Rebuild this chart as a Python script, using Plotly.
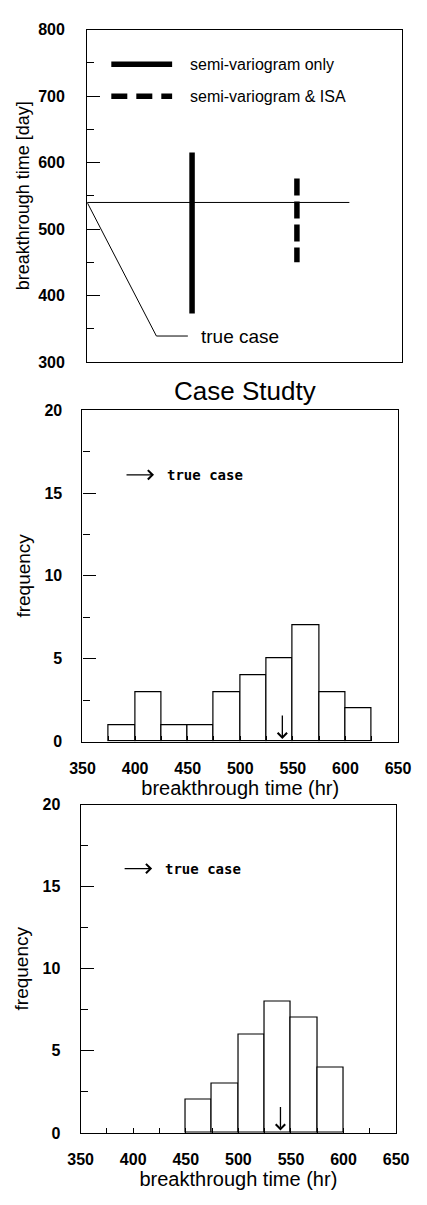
import plotly.graph_objects as go

W, H = 427, 1205

# ---------------- data ----------------
true_value = 540                      # true-case breakthrough time
sv_only_range = [373, 615]            # semi-variogram only (min, max)
sv_isa_range = [450, 576]             # semi-variogram & ISA (min, max)

bin_width = 25
case1_bin_left = [375, 400, 425, 450, 475, 500, 525, 550, 575, 600]
case1_counts = [1, 3, 1, 1, 3, 4, 5, 7, 3, 2]

case2_bin_left = [450, 475, 500, 525, 550, 575]
case2_counts = [2, 3, 6, 8, 7, 4]

hist_xticks = [350, 400, 450, 500, 550, 600, 650]
hist_yticks = [0, 5, 10, 15, 20]
top_yticks = [300, 400, 500, 600, 700, 800]

# ---------------- helpers ----------------
FONT = "Liberation Sans, Arial, sans-serif"
HAND = "DejaVu Sans Mono, monospace"


def xdom(l, r):
    return [l / W, r / W]


def ydom(top, bottom):
    return [1 - bottom / H, 1 - top / H]


fig = go.Figure()

# ---- top panel ----
fig.add_trace(go.Scatter(x=[0, 2.5], y=[true_value, true_value], mode="lines",
                         line=dict(color="black", width=1), xaxis="x", yaxis="y",
                         showlegend=False, hoverinfo="skip"))
# leader line for "true case" label
fig.add_trace(go.Scatter(x=[0, 0.66, 0.96], y=[true_value, 339, 339], mode="lines",
                         line=dict(color="black", width=1), xaxis="x", yaxis="y",
                         showlegend=False, hoverinfo="skip"))
fig.add_trace(go.Scatter(x=[1, 1], y=sv_only_range, mode="lines",
                         line=dict(color="black", width=5.5), xaxis="x", yaxis="y",
                         name="semi-variogram only", showlegend=False))
fig.add_trace(go.Scatter(x=[2, 2], y=sv_isa_range[::-1], mode="lines",
                         line=dict(color="black", width=5.5, dash="17px,6px"),
                         xaxis="x", yaxis="y",
                         name="semi-variogram & ISA", showlegend=False))

# ---- histograms ----
fig.add_trace(go.Bar(x=[b + bin_width / 2 for b in case1_bin_left], y=case1_counts,
                     width=bin_width, marker=dict(color="white", line=dict(color="black", width=1.2)),
                     xaxis="x2", yaxis="y2", showlegend=False))
fig.add_trace(go.Bar(x=[b + bin_width / 2 for b in case2_bin_left], y=case2_counts,
                     width=bin_width, marker=dict(color="white", line=dict(color="black", width=1.2)),
                     xaxis="x3", yaxis="y3", showlegend=False))

tickfont = dict(family=FONT, size=16, color="black", weight="bold")
xtitlefont = dict(family=FONT, size=20, color="black")
ytitlefont = dict(family=FONT, size=19, color="black")
toptitlefont = dict(family=FONT, size=18, color="black")

common_line = dict(showline=True, linecolor="black", linewidth=1.2, mirror=True,
                   showgrid=False, zeroline=False)

fig.update_layout(
    width=W, height=H, autosize=False,
    margin=dict(l=0, r=0, t=0, b=0),
    paper_bgcolor="white", plot_bgcolor="white",
    bargap=0,
    xaxis=dict(domain=xdom(79, 414), range=[0, 3], showticklabels=False, ticks="",
               anchor="y", **common_line),
    yaxis=dict(domain=ydom(22, 359), range=[300, 800], tickvals=top_yticks,
               ticks="inside", ticklen=13, tickcolor="black", tickwidth=1.2,
               minor=dict(dtick=50, ticks="inside", ticklen=7, tickcolor="black", tickwidth=1.2),
               tickfont=tickfont, ticklabelstandoff=18, anchor="x",
               title=dict(text="breakthrough time [day]", font=toptitlefont, standoff=3),
               **common_line),
    xaxis2=dict(domain=xdom(74, 410), range=[350, 650], tickvals=hist_xticks,
                ticks="inside", ticklen=5, tickcolor="black", tickwidth=1,
                minor=dict(dtick=25, ticks="inside", ticklen=5, tickcolor="black"),
                tickfont=tickfont, ticklabelstandoff=12, anchor="y2",
                title=dict(text="breakthrough time (hr)", font=xtitlefont, standoff=2),
                **common_line),
    yaxis2=dict(domain=ydom(408, 744), range=[0, 20], tickvals=hist_yticks,
                ticks="inside", ticklen=13, tickcolor="black", tickwidth=1.2,
                minor=dict(dtick=2.5, ticks="inside", ticklen=7, tickcolor="black", tickwidth=1.2),
                tickfont=tickfont, ticklabelstandoff=16, anchor="x2",
                title=dict(text="frequency", font=ytitlefont, standoff=8),
                **common_line),
    xaxis3=dict(domain=xdom(72, 408), range=[350, 650], tickvals=hist_xticks,
                ticks="inside", ticklen=5, tickcolor="black", tickwidth=1,
                minor=dict(dtick=25, ticks="inside", ticklen=5, tickcolor="black"),
                tickfont=tickfont, ticklabelstandoff=12, anchor="y3",
                title=dict(text="breakthrough time (hr)", font=xtitlefont, standoff=2),
                **common_line),
    yaxis3=dict(domain=ydom(808, 1141), range=[0, 20], tickvals=hist_yticks,
                ticks="inside", ticklen=13, tickcolor="black", tickwidth=1.2,
                minor=dict(dtick=2.5, ticks="inside", ticklen=7, tickcolor="black", tickwidth=1.2),
                tickfont=tickfont, ticklabelstandoff=16, anchor="x3",
                title=dict(text="frequency", font=ytitlefont, standoff=8),
                **common_line),
)

ann = []
# legend (top panel)
fig.add_shape(type="line", xref="x", yref="y", x0=0.23, x1=0.81, y0=748, y1=748,
              line=dict(color="black", width=5.5))
fig.add_shape(type="line", xref="x", yref="y", x0=0.23, x1=0.81, y0=700, y1=700,
              line=dict(color="black", width=5.5, dash="16px,9px"))
ann.append(dict(x=0.96, y=748, xref="x", yref="y", text="semi-variogram only",
                showarrow=False, xanchor="left", yanchor="middle",
                font=dict(family=FONT, size=16, color="black")))
ann.append(dict(x=0.96, y=700, xref="x", yref="y", text="semi-variogram &amp; ISA",
                showarrow=False, xanchor="left", yanchor="middle",
                font=dict(family=FONT, size=16, color="black")))
ann.append(dict(x=1.07, y=339, xref="x", yref="y", text="true case",
                showarrow=False, xanchor="left", yanchor="middle",
                font=dict(family=FONT, size=19, color="black")))

# title between panels
ann.append(dict(x=247 / W, y=1 - 388 / H, xref="paper", yref="paper", text="Case Studty",
                showarrow=False, xanchor="center", yanchor="middle",
                font=dict(family=FONT, size=26, color="black")))

for xr, yr in (("x2", "y2"), ("x3", "y3")):
    ann.append(dict(x=418, y=16.1, xref=xr, yref=yr, ax=-29, ay=0, text="",
                    showarrow=True, arrowhead=4, arrowsize=1.4, arrowwidth=1.3,
                    arrowcolor="black"))
    ann.append(dict(x=428, y=16.1, xref=xr, yref=yr, text="<b>true case</b>",
                    showarrow=False, xanchor="left", yanchor="middle",
                    font=dict(family=HAND, size=14, color="black")))
    ann.append(dict(x=true_value, y=0.15, xref=xr, yref=yr, ax=0, ay=-25, text="",
                    showarrow=True, arrowhead=4, arrowsize=1.4, arrowwidth=1.3,
                    arrowcolor="black"))

fig.update_layout(annotations=ann)

fig.write_html("out.html")
